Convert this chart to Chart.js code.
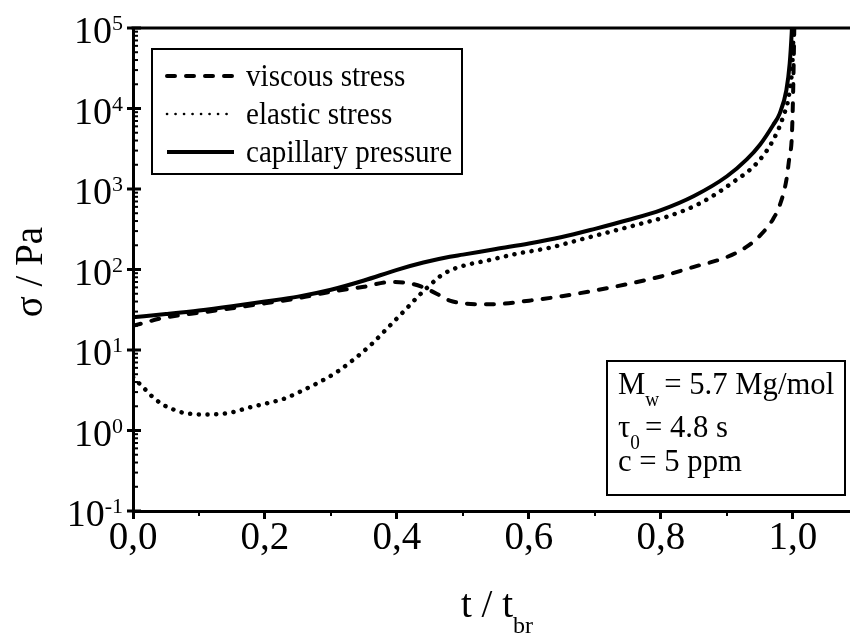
<!DOCTYPE html>
<html>
<head>
<meta charset="utf-8">
<script src="https://cdn.jsdelivr.net/npm/chart.js@4.4.1/dist/chart.umd.min.js"></script>
<style>
  html, body { margin: 0; padding: 0; background: #fff; }
  #wrap { width: 850px; height: 639px; }
</style>
</head>
<body>
<div id="wrap"><canvas id="grafico"></canvas></div>
<script>
// t / t_br and stress in Pa for each curve
const tViscous = [0, 0.015, 0.04, 0.07, 0.1, 0.15, 0.2, 0.25, 0.3, 0.35, 0.39, 0.42, 0.44, 0.46, 0.48, 0.5, 0.53, 0.56, 0.6, 0.65, 0.7, 0.75, 0.8, 0.85, 0.9, 0.93, 0.95, 0.97, 0.98, 0.99, 0.995, 0.998, 1.0, 1.002, 1.003];
const viscous = [20, 21.5, 24.5, 27, 29, 33, 38, 44, 53, 61, 70, 67, 60, 50, 41, 38, 37, 37.5, 41, 46.6, 55, 66, 82, 108, 143, 192, 264, 425, 630, 1294, 2650, 4060, 13000, 100000, 300000];

const tElastic = [0, 0.01, 0.02, 0.03, 0.045, 0.06, 0.075, 0.09, 0.11, 0.13, 0.15, 0.177, 0.2, 0.23, 0.25, 0.28, 0.31, 0.335, 0.36, 0.385, 0.41, 0.435, 0.45, 0.465, 0.48, 0.5, 0.54, 0.58, 0.632, 0.68, 0.733, 0.78, 0.809, 0.859, 0.91, 0.945, 0.97, 0.985, 0.995, 1.0, 1.002];
const elastic = [4.6, 3.8, 3.15, 2.6, 2.1, 1.84, 1.67, 1.6, 1.58, 1.6, 1.68, 1.94, 2.15, 2.5, 2.95, 3.9, 5.4, 7.7, 11.5, 18.5, 30, 49, 64, 82, 97, 111, 131, 156, 187, 238, 309, 391, 453, 664, 1230, 2085, 4060, 7900, 17000, 54000, 300000];

const tCapillary = [0, 0.05, 0.1, 0.15, 0.2, 0.25, 0.3, 0.35, 0.4, 0.44, 0.48, 0.5, 0.55, 0.6, 0.65, 0.7, 0.75, 0.8, 0.85, 0.9, 0.93, 0.95, 0.97, 0.98, 0.99, 0.995, 0.998, 1.0];
const capillary = [25.5, 28, 31, 35, 40, 46, 56, 73, 99, 122, 144, 153, 180, 210, 253, 320, 412, 547, 819, 1440, 2330, 3550, 6240, 8700, 16900, 36000, 85000, 200000];

const decadas = [-1, 0, 1, 2, 3, 4, 5];
const xMenores = [0.1, 0.3, 0.5, 0.7, 0.9];
const textoInfo = [['M', 'w', '= 5.7 Mg/mol'], ['\u03c4', '0', '= 4.8 s'], ['c = 5 ppm', '', '']];

const fuente = '"Liberation Serif", "Times New Roman", serif';

const pares = (ts, vs) => ts.map((t, i) => ({ x: t, y: vs[i] }));

const estilo = {
  borderColor: '#000',
  pointRadius: 0,
  cubicInterpolationMode: 'monotone',
  borderCapStyle: 'round',
  clip: 0
};

// slightly narrowed serif text, returns the advance
function texto(ctx, str, x, y, size, sx) {
  ctx.save();
  ctx.font = `${size}px ${fuente}`;
  ctx.textAlign = 'left';
  ctx.textBaseline = 'alphabetic';
  ctx.translate(x, y);
  ctx.scale(sx, 1);
  ctx.fillText(str, 0, 0);
  const w = ctx.measureText(str).width * sx;
  ctx.restore();
  return w;
}

// frame, log ticks, titles, legend and parameter box
const marco = {
  id: 'marco',
  afterDraw(chart) {
    const { ctx, chartArea: a, scales: { x, y } } = chart;
    const linea = (x1, y1, x2, y2) => { ctx.beginPath(); ctx.moveTo(x1, y1); ctx.lineTo(x2, y2); ctx.stroke(); };
    ctx.save();
    ctx.strokeStyle = '#000';
    ctx.fillStyle = '#000';
    ctx.lineCap = 'butt';
    ctx.setLineDash([]);

    ctx.lineWidth = 3;
    linea(a.left - 1.5, a.top, a.right, a.top);

    // y axis: decades with 10^n labels, 2..9 short inner ticks
    decadas.forEach(e => {
      const py = y.getPixelForValue(Math.pow(10, e));
      ctx.lineWidth = 3;
      linea(a.left - 6, py, a.left + 8, py);
      const exp = e < 0 ? '-' + (-e) : String(e);
      ctx.font = `22px ${fuente}`;
      const wExp = ctx.measureText(exp).width;
      const xr = a.left - 10;
      texto(ctx, exp, xr - wExp, py + 2, 22, 1);
      ctx.font = `38px ${fuente}`;
      const wBase = ctx.measureText('10').width;
      texto(ctx, '10', xr - wExp - wBase, py + 15, 38, 1);
      if (e < 5) {
        ctx.lineWidth = 2;
        for (let k = 2; k <= 9; k++) {
          const pm = y.getPixelForValue(k * Math.pow(10, e));
          linea(a.left, pm, a.left + 5, pm);
        }
      }
    });

    ctx.lineWidth = 2;
    xMenores.forEach(v => {
      const px = x.getPixelForValue(v);
      linea(px, a.bottom, px, a.bottom + 5);
    });

    // axis titles
    ctx.font = `39px ${fuente}`;
    const wP = ctx.measureText('t / t').width;
    ctx.font = `24px ${fuente}`;
    const wS = ctx.measureText('br').width;
    const x0 = 497 - (wP + wS) / 2;
    texto(ctx, 't / t', x0, 617, 39, 1);
    texto(ctx, 'br', x0 + wP, 633, 24, 1);

    ctx.save();
    ctx.translate(42, 272);
    ctx.rotate(-Math.PI / 2);
    ctx.font = `39px ${fuente}`;
    ctx.textAlign = 'center';
    ctx.fillText('\u03c3 / Pa', 0, 0);
    ctx.restore();

    // legend box
    ctx.lineWidth = 2;
    ctx.strokeRect(152, 49, 310, 125);
    const filas = [76, 114, 152];
    chart.data.datasets.forEach((ds, i) => {
      const fy = filas[i];
      ctx.save();
      ctx.lineCap = 'round';
      if (i === 1) {
        ctx.lineWidth = 2.6;
        ctx.setLineDash([0.1, 8.4]);
      } else {
        ctx.lineWidth = ds.borderWidth;
        ctx.setLineDash(ds.borderDash || []);
        if (!ds.borderDash) ctx.lineCap = 'butt';
      }
      linea(167, fy, 234, fy);
      ctx.restore();
      texto(ctx, ds.label, 246, fy + 10, 32, 0.91);
    });

    // parameter box
    ctx.lineWidth = 2;
    ctx.strokeRect(607, 361, 238, 134);
    const bases = [394, 437, 471];
    textoInfo.forEach((partes, i) => {
      let px = 618;
      px += texto(ctx, partes[0], px, bases[i], 32, 0.96);
      if (partes[1]) {
        px += texto(ctx, partes[1], px, bases[i] + 12, 20, 0.96) + 5;
        texto(ctx, partes[2], px, bases[i], 32, 0.96);
      }
    });

    ctx.restore();
  }
};

new Chart(document.getElementById('grafico'), {
  type: 'line',
  data: {
    datasets: [
      { ...estilo, label: 'viscous stress', data: pares(tViscous, viscous), borderWidth: 4, borderDash: [8, 11] },
      { ...estilo, label: 'elastic stress', data: pares(tElastic, elastic), borderWidth: 4.5, borderDash: [0.1, 8.6] },
      { ...estilo, label: 'capillary pressure', data: pares(tCapillary, capillary), borderWidth: 4, borderCapStyle: 'butt' }
    ]
  },
  options: {
    responsive: true,
    maintainAspectRatio: false,
    animation: false,
    layout: { padding: { top: 28, right: 0, left: 0, bottom: 0 } },
    plugins: { legend: { display: false }, tooltip: { enabled: false } },
    scales: {
      x: {
        type: 'linear',
        min: 0,
        max: 1.0864,
        afterFit(s) { s.height = 128; },
        grid: { drawOnChartArea: false, tickLength: 8, tickWidth: 3, tickColor: '#000' },
        border: { display: true, width: 3, color: '#000' },
        ticks: {
          stepSize: 0.2,
          includeBounds: false,
          maxRotation: 0,
          padding: -4,
          color: '#000',
          font: { family: fuente, size: 39 },
          callback: v => v.toFixed(1).replace('.', ',')
        }
      },
      y: {
        type: 'logarithmic',
        min: 0.1,
        max: 100000,
        afterFit(s) { s.width = 133; },
        grid: { display: false },
        border: { display: true, width: 3, color: '#000' },
        ticks: { display: false }
      }
    }
  },
  plugins: [marco]
});
</script>
</body>
</html>
